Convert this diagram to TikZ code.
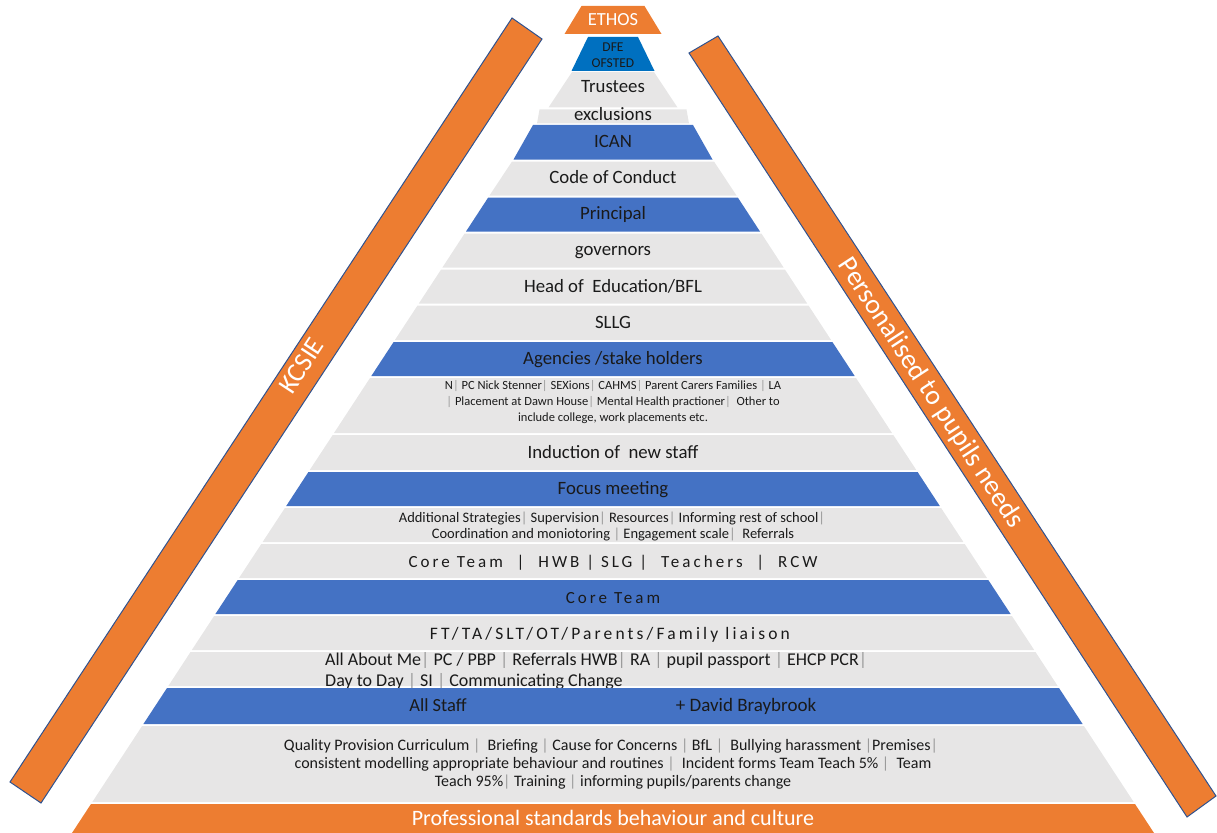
\documentclass[tikz,border=0pt]{standalone}
\usepackage{fontspec}
\setmainfont{Carlito}
\newfontfamily\spacedfont[LetterSpace=18]{Carlito}
\definecolor{layergray}{HTML}{E7E6E6}
\definecolor{layerblue}{HTML}{4472C4}
\definecolor{dfeblue}{HTML}{0070C0}
\definecolor{accent}{HTML}{ED7D31}
\definecolor{edgeblue}{HTML}{2F528F}
\definecolor{ink}{HTML}{1A1A1A}
\newcommand{\sepbar}{{\color{black!40}|}}
% one pyramid tier: top y, bottom y, half width at top, half width at bottom, fill
\newcommand{\tier}[5]{\fill[#5] (613-#3,#1) -- (613+#3,#1) -- (613+#4,#2) -- (613-#4,#2) -- cycle;}
\begin{document}
\begin{tikzpicture}[x=1pt,y=-1pt,
  line/.style={inner sep=0pt, text height=0.64em, text depth=0pt, text=ink, yshift=-2.5pt},
  title/.style={line, font=\fontsize{18.8}{22}\selectfont},
  small/.style={line, font=\fontsize{12.5}{15}\selectfont},
  mid/.style={line, font=\fontsize{14.5}{17}\selectfont},
  low/.style={line, font=\fontsize{16}{18}\selectfont},
  big/.style={line, font=\fontsize{18}{21}\selectfont},
  spaced/.style={line, font=\fontsize{17}{20}\spacedfont},
  white text/.style={line, text=white},
  band/.style={fill=accent, draw=edgeblue, line width=1pt, line join=miter}]
\useasboundingbox (0,0) rectangle (1217,832);

% tiers of the pyramid, top to bottom
\tier{6}{34}{31.5}{48.5}{accent}
\tier{37}{71}{25}{41.5}{dfeblue}
\tier{72}{107.5}{41}{64.5}{layergray}
\tier{109.5}{123.5}{73.5}{76}{layergray}
\tier{125}{159.5}{80}{99.5}{layerblue}
\tier{161.5}{195.5}{101}{123.5}{layergray}
\tier{197.5}{231.5}{124.8}{147}{layerblue}
\tier{233.5}{267.5}{148.4}{170.6}{layergray}
\tier{269.5}{303.5}{171.9}{194.2}{layergray}
\tier{305.5}{340}{195.5}{218.1}{layergray}
\tier{342}{376}{219.4}{241.7}{layerblue}
\tier{378}{433}{243}{279}{layergray}
\tier{435}{470}{280.3}{303.3}{layergray}
\tier{472}{506}{304.6}{326.8}{layerblue}
\tier{508}{542}{328.1}{350.4}{layergray}
\tier{544}{578}{351.7}{374}{layergray}
\tier{580}{614}{375.3}{397.6}{layerblue}
\tier{616}{650}{398.9}{421.2}{layergray}
\tier{652}{686}{422.5}{444.7}{layergray}

% left-aligned text that runs into the tier below
\node[big, anchor=west] (aam1) at (325,660) {All About Me\sepbar{} PC / PBP \sepbar{} Referrals HWB\sepbar{} RA \sepbar{} pupil passport \sepbar{} EHCP PCR\sepbar};
\node[big, anchor=west] (aam2) at (325,681) {Day to Day \sepbar{} SI \sepbar{} Communicating Change};

\tier{688}{724}{446}{469.6}{layerblue}
\tier{726}{802}{470.9}{520.7}{layergray}
\tier{804}{840}{522}{545.6}{accent}

% side bands
\draw[band] (10,782) -- (41,803) -- (542,39) -- (512,18) -- cycle;
\draw[band] (689,53) -- (718,36) -- (1216,796) -- (1187,817) -- cycle;
\node[white text, yshift=0pt, font=\fontsize{27}{30}\selectfont, rotate=56.7] (kcsie) at (306,366) {KCSIE};
\node[white text, yshift=0pt, font=\fontsize{27.5}{30}\selectfont, rotate=-56.8] (personal) at (927,393) {Personalised to pupils needs};

% tier labels
\node[white text, font=\fontsize{18.5}{22}\selectfont] (ethos) at (613,20) {ETHOS};
\node[line, font=\fontsize{13.5}{16}\selectfont] (dfe) at (613,46) {DFE};
\node[line, font=\fontsize{13.5}{16}\selectfont] (ofsted) at (613,62) {OFSTED};
\node[title] (trustees) at (613,87) {Trustees};
\node[title] (exclusions) at (613,115) {exclusions};
\node[title] (ican) at (613,142) {ICAN};
\node[title] (code) at (613,178) {Code of Conduct};
\node[title] (principal) at (613,214) {Principal};
\node[title] (governors) at (613,250) {governors};
\node[title] (head) at (613,287) {Head of~ Education/BFL};
\node[title] (sllg) at (613,323) {SLLG};
\node[title] (agencies) at (613,359) {Agencies /stake holders};
\node[small] (ag1) at (613,384) {N\sepbar{} PC Nick Stenner\sepbar{} SEXions\sepbar{} CAHMS\sepbar{} Parent Carers Families \sepbar{} LA};
\node[small] (ag2) at (613,400) {\sepbar{} Placement at Dawn House\sepbar{} Mental Health practioner\sepbar{}~ Other to};
\node[small] (ag3) at (613,416) {include college, work placements etc.};
\node[title] (induction) at (613,453) {Induction of~ new staff};
\node[title] (focus) at (613,489) {Focus meeting};
\node[mid] (fm1) at (612,517) {Additional Strategies\sepbar{} Supervision\sepbar{} Resources\sepbar{} Informing rest of school\sepbar};
\node[mid] (fm2) at (613,533) {Coordination and moniotoring \sepbar{} Engagement scale\sepbar{}~ Referrals};
\node[spaced] (teams) at (613,562) {Core Team \ {\color{ink}|}\ \ HWB {\color{ink}|} SLG {\color{ink}|} \ Teachers \ {\color{ink}|} \ RCW};
\node[spaced] (core) at (613,598) {Core Team};
\node[spaced, font=\fontsize{17.5}{20}\spacedfont] (liaison) at (610,634) {FT/TA/SLT/OT/Parents/Family liaison};
\node[big, font=\fontsize{18.5}{21}\selectfont] (allstaff) at (438,706) {All Staff};
\node[big, font=\fontsize{19}{21}\selectfont] (david) at (746,706) {+ David Braybrook};
\node[low] (q1) at (611,745) {Quality Provision Curriculum \sepbar{}~ Briefing \sepbar{} Cause for Concerns \sepbar{} BfL \sepbar{}~ Bullying harassment \sepbar{}Premises\sepbar};
\node[low] (q2) at (613,763) {consistent modelling appropriate behaviour and routines \sepbar{}~ Incident forms Team Teach 5\% \sepbar{}~ Team};
\node[low] (q3) at (613,781) {Teach 95\%\sepbar{} Training \sepbar{} informing pupils/parents change};
\node[white text, font=\fontsize{22}{24}\selectfont] (prof) at (613,820) {Professional standards behaviour and culture};
\end{tikzpicture}
\end{document}
